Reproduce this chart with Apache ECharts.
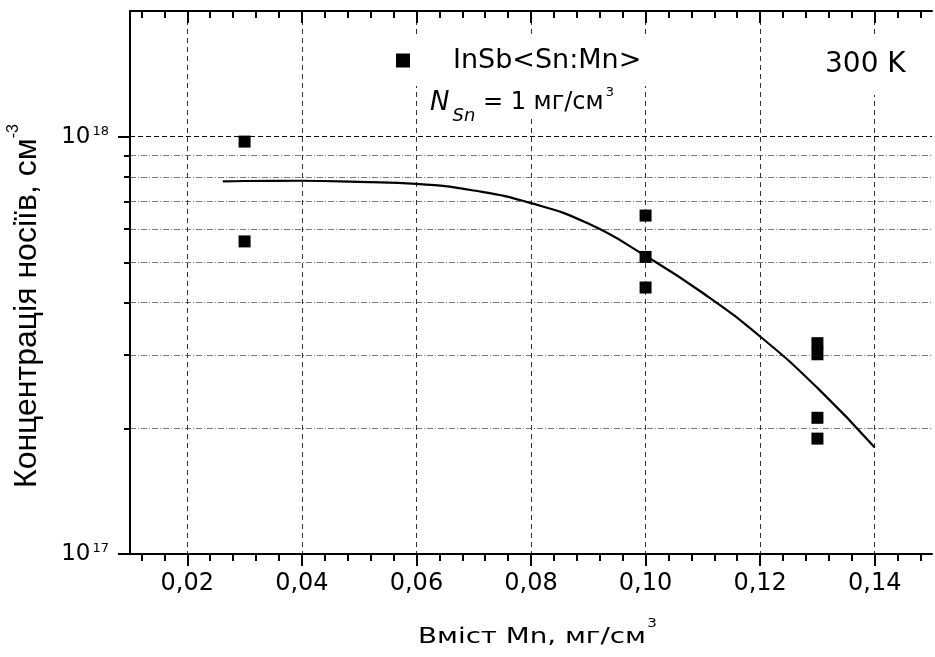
<!DOCTYPE html>
<html>
<head>
<meta charset="utf-8">
<script src="https://cdn.jsdelivr.net/npm/echarts@6/dist/echarts.min.js"></script>
<style>
  html, body { margin: 0; padding: 0; background: #fff; }
  #chart { width: 935px; height: 657px; }
</style>
</head>
<body>
<div id="chart"></div>
<script>
// Measured carrier concentration, InSb<Sn:Mn>, 300 K
const MN_CONTENT = [0.03, 0.03, 0.10, 0.10, 0.10, 0.13, 0.13, 0.13, 0.13];
const CONCENTRATION = [9.73e17, 5.61e17, 6.47e17, 5.15e17, 4.35e17, 3.20e17, 3.01e17, 2.12e17, 1.89e17];

// Fitted curve
const FIT_X = [0.0262, 0.03, 0.04, 0.05, 0.06, 0.07, 0.08, 0.09, 0.10, 0.11, 0.12, 0.13, 0.14];
const FIT_Y = [7.81e17, 7.83e17, 7.84e17, 7.79e17, 7.71e17, 7.43e17, 6.93e17, 6.19e17, 5.18e17, 4.22e17, 3.32e17, 2.50e17, 1.80e17];

// Axis ticks
const X_MAJOR = [0.02, 0.04, 0.06, 0.08, 0.10, 0.12, 0.14];
const X_MINOR = [0.012, 0.016, 0.024, 0.028, 0.032, 0.036, 0.044, 0.048, 0.052, 0.056,
                 0.064, 0.068, 0.072, 0.076, 0.084, 0.088, 0.092, 0.096, 0.104, 0.108,
                 0.112, 0.116, 0.124, 0.128, 0.132, 0.136, 0.144, 0.148];
const Y_DECADES = [1e17, 1e18];
const Y_MINOR = [2e17, 3e17, 4e17, 5e17, 6e17, 7e17, 8e17, 9e17];

const X_MIN = 0.01, X_MAX = 0.15;
const Y_MIN = 1e17, Y_MAX = 2e18;

const SERIES_NAME = 'InSb<Sn:Mn>';

const FONT = 'DejaVu Sans';
const lg = Math.log10;

const chart = echarts.init(document.getElementById('chart'), null, { renderer: 'canvas' });

const hiddenAxisParts = {
  axisLine: { show: false },
  axisLabel: { show: false },
  splitLine: { show: false }
};

const option = {
  backgroundColor: '#fff',
  animation: false,
  grid: { left: 130, right: 3, top: 11, bottom: 103, containLabel: false, outerBoundsMode: 'none' },
  legend: {
    data: [SERIES_NAME],
    left: 386, top: 35,
    orient: 'horizontal',
    icon: 'rect',
    itemWidth: 14, itemHeight: 14,
    backgroundColor: '#fff',
    padding: [12, 10, 12, 10],
    itemStyle: { color: '#000', opacity: 1 },
    textStyle: { fontFamily: FONT, fontSize: 27, color: '#000', padding: [0, 0, 0, 38] },
    selectedMode: false
  },
  xAxis: [
    {
      type: 'value', min: X_MIN, max: X_MAX, position: 'bottom',
      axisLine: { show: true, onZero: false, lineStyle: { color: '#000', width: 2 } },
      axisTick: { show: true, inside: false, length: 12, customValues: X_MAJOR, lineStyle: { color: '#000', width: 2 } },
      axisLabel: {
        show: true, customValues: X_MAJOR, margin: 18,
        fontFamily: FONT, fontSize: 24, color: '#000',
        formatter: v => v.toFixed(2).replace('.', ',')
      },
      splitLine: { show: true, lineStyle: { color: '#333', width: 1, type: [5, 4] } }
    },
    {
      type: 'value', min: X_MIN, max: X_MAX, position: 'bottom', ...hiddenAxisParts,
      axisLine: { show: false, onZero: false },
      axisTick: { show: true, inside: false, length: 7, customValues: X_MINOR, lineStyle: { color: '#000', width: 2 } }
    },
    {
      type: 'value', min: X_MIN, max: X_MAX, position: 'top', ...hiddenAxisParts,
      axisLine: { show: true, onZero: false, lineStyle: { color: '#000', width: 2 } },
      axisTick: { show: true, inside: true, length: 12, customValues: X_MAJOR, lineStyle: { color: '#000', width: 2 } }
    },
    {
      type: 'value', min: X_MIN, max: X_MAX, position: 'top', ...hiddenAxisParts,
      axisLine: { show: false, onZero: false },
      axisTick: { show: true, inside: true, length: 7, customValues: X_MINOR, lineStyle: { color: '#000', width: 2 } }
    }
  ],
  yAxis: [
    // data axis (logarithmic)
    {
      type: 'log', logBase: 10, min: Y_MIN, max: Y_MAX, position: 'left',
      axisLine: { show: false, onZero: false }, axisTick: { show: false },
      axisLabel: { show: false }, splitLine: { show: false }
    },
    // decade ticks, labels and the 10^18 grid line
    {
      type: 'value', min: lg(Y_MIN), max: lg(Y_MAX), position: 'left',
      axisLine: { show: true, onZero: false, lineStyle: { color: '#000', width: 2 } },
      axisTick: { show: true, inside: false, length: 12, customValues: Y_DECADES.map(lg), lineStyle: { color: '#000', width: 2 } },
      axisLabel: {
        show: true, customValues: Y_DECADES.map(lg), margin: 21,
        formatter: v => '{b|10}{s|' + Math.round(v) + '}',
        rich: {
          b: { fontFamily: FONT, fontSize: 23, lineHeight: 23, color: '#000', verticalAlign: 'bottom' },
          s: { fontFamily: FONT, fontSize: 13, lineHeight: 13, color: '#000', verticalAlign: 'top', padding: [0, 0, 17, 2] }
        }
      },
      splitLine: { show: true, lineStyle: { color: '#000', width: 1, type: [5, 3] } }
    },
    // minor ticks and dash-dot grid lines at 2..9 x 10^17
    {
      type: 'value', min: lg(Y_MIN), max: lg(Y_MAX), position: 'left',
      axisLine: { show: false, onZero: false },
      axisTick: { show: true, inside: false, length: 6, customValues: Y_MINOR.map(lg), lineStyle: { color: '#000', width: 2 } },
      axisLabel: { show: false },
      splitLine: { show: true, lineStyle: { color: '#7a7a7a', width: 1, type: [6, 2, 1, 2] } }
    }
  ],
  series: [
    {
      name: SERIES_NAME,
      type: 'scatter',
      xAxisIndex: 0, yAxisIndex: 0,
      symbol: 'rect', symbolSize: 12,
      itemStyle: { color: '#000', opacity: 1 },
      data: MN_CONTENT.map((x, i) => [x, CONCENTRATION[i]]),
      z: 5
    },
    {
      name: 'fit',
      type: 'line',
      xAxisIndex: 0, yAxisIndex: 0,
      showSymbol: false, symbol: 'none',
      smooth: 0.5, smoothConstraint: false,
      lineStyle: { color: '#000', width: 2.2 },
      data: FIT_X.map((x, i) => [x, FIT_Y[i]]),
      z: 4
    }
  ],
  graphic: [
    {
      type: 'text', x: 424, y: 82, z: 10,
      style: {
        text: '{n|N}{sub|Sn}{t| = 1 мг/см}{sup|3}',
        align: 'left', verticalAlign: 'top',
        backgroundColor: '#fff', padding: [0, 6, 7, 6],
        rich: {
          n: { fontFamily: FONT, fontStyle: 'italic', fontSize: 26, lineHeight: 26, verticalAlign: 'top', padding: [8, 0, 0, 0], fill: '#000' },
          sub: { fontFamily: FONT, fontStyle: 'italic', fontSize: 18, lineHeight: 18, verticalAlign: 'top', padding: [25, 0, 0, 3], fill: '#000' },
          t: { fontFamily: FONT, fontSize: 24, lineHeight: 24, verticalAlign: 'top', padding: [9, 0, 0, 0], fill: '#000' },
          sup: { fontFamily: FONT, fontSize: 13, lineHeight: 13, verticalAlign: 'top', padding: [4, 0, 0, 2], fill: '#000' }
        }
      }
    },
    {
      type: 'text', x: 817, y: 37, z: 10,
      style: {
        text: '300 K', align: 'left', verticalAlign: 'top',
        font: '28px "DejaVu Sans"', fill: '#000', lineHeight: 28,
        backgroundColor: '#fff', padding: [14, 8, 16, 8]
      }
    },
    {
      type: 'text', x: 418, y: 616, z: 10, scaleX: 1.26,
      style: {
        text: '{t|Вміст Mn, мг/см}{sup|3}',
        align: 'left', verticalAlign: 'top',
        rich: {
          t: { fontFamily: FONT, fontSize: 22, lineHeight: 22, verticalAlign: 'top', padding: [10, 0, 0, 0], fill: '#000' },
          sup: { fontFamily: FONT, fontSize: 12, lineHeight: 12, verticalAlign: 'top', padding: [2, 0, 0, 1], fill: '#000' }
        }
      }
    },
    {
      type: 'text', x: 6, y: 488, z: 10, rotation: Math.PI / 2,
      style: {
        text: '{t|Концентрація носіїв, см}{sup|-3}',
        align: 'left', verticalAlign: 'top',
        rich: {
          t: { fontFamily: 'Liberation Sans', fontSize: 32, lineHeight: 32, verticalAlign: 'top', padding: [5, 0, 0, 0], fill: '#000' },
          sup: { fontFamily: 'Liberation Sans', fontSize: 16, lineHeight: 16, verticalAlign: 'top', padding: [0, 0, 0, 0], fill: '#000' }
        }
      }
    }
  ]
};

chart.setOption(option);
</script>
</body>
</html>
